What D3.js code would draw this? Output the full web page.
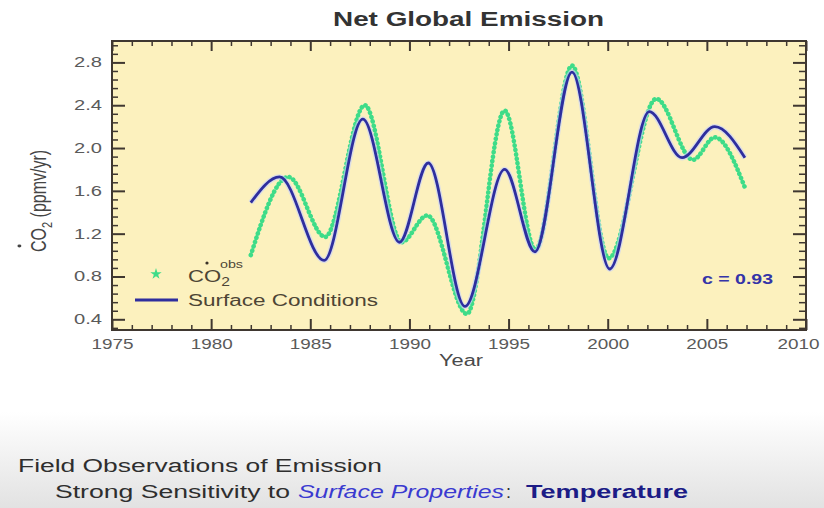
<!DOCTYPE html>
<html lang="en">
<head>
<meta charset="UTF-8">
<title>Net Global Emission</title>
<script src="https://d3js.org/d3.v7.min.js"></script>
<style>
    body { margin: 0; background: #fff; }
    svg text { font-family: "Liberation Sans", Arial, sans-serif; }
</style>
</head>
<body>
<svg id="main" width="824" height="508" viewBox="0 0 824 508"></svg>
<script>
    // observed CO2 growth rate (green dots), read at turning points
    const obsYears  = [1982.0, 1983.9, 1985.75, 1987.75, 1989.6, 1990.9, 1992.9, 1994.8, 1996.35, 1998.2, 2000.05, 2002.45, 2004.3, 2005.4, 2006.92];
    const obsValues = [1.00, 1.73, 1.17, 2.40, 1.12, 1.37, 0.45, 2.35, 1.05, 2.77, 0.97, 2.46, 1.89, 2.10, 1.63];

    // surface conditions model (blue line)
    const surfYears  = [1982.0, 1983.45, 1985.7, 1987.65, 1989.5, 1990.95, 1992.8, 1994.8, 1996.33, 1998.2, 2000.1, 2002.1, 2003.75, 2005.4, 2006.92];
    const surfValues = [1.49, 1.73, 0.95, 2.27, 1.12, 1.86, 0.52, 1.80, 1.03, 2.71, 0.87, 2.34, 1.91, 2.20, 1.91];

    const xTicks = [1975, 1980, 1985, 1990, 1995, 2000, 2005, 2010];
    const yTicks = [0.4, 0.8, 1.2, 1.6, 2.0, 2.4, 2.8];

    let svg = d3.select('svg#main');
    let plot = {left: 112, right: 806, top: 41, bottom: 330};
    const frameColor = '#3f3730';
    const blue = '#2e2e9e';
    const green = '#3edc88';

    // grey band at the bottom of the slide
    let grad = svg.append('defs').append('linearGradient')
        .attr('id', 'band').attr('x1', 0).attr('y1', 0).attr('x2', 0).attr('y2', 1);
    grad.append('stop').attr('offset', '0%').attr('stop-color', '#ffffff');
    grad.append('stop').attr('offset', '100%').attr('stop-color', '#e2e2e2');
    svg.append('rect').attr('x', 0).attr('y', 412).attr('width', 824).attr('height', 96)
        .attr('fill', 'url(#band)');

    let xScale = d3.scaleLinear().domain([1975, 2010]).range([plot.left, plot.right]);
    let yScale = d3.scaleLinear().domain([0.3, 3.0]).range([plot.bottom, plot.top]);

    svg.append('rect')
        .attr('x', plot.left).attr('y', plot.top)
        .attr('width', plot.right - plot.left).attr('height', plot.bottom - plot.top)
        .attr('fill', '#fcf1be');

    // minor tick values
    let xMinor = d3.range(1975, 2011).filter(d => d % 5 !== 0);
    let yMinor = d3.range(4, 38).filter(k => k % 5 !== 0).map(k => k * 0.08);

    function styleAxis(g, width) {
        g.attr('font-size', null).attr('font-family', null);
        g.select('.domain').remove();
        g.selectAll('line').attr('stroke', frameColor).attr('stroke-width', width);
    }

    // bottom axis
    svg.append('g').attr('transform', 'translate(0,' + plot.bottom + ')')
        .call(d3.axisBottom(xScale).tickValues(xMinor).tickSize(-5).tickFormat(''))
        .call(g => styleAxis(g, 1.5));
    let xAxis = svg.append('g').attr('transform', 'translate(0,' + plot.bottom + ')')
        .call(d3.axisBottom(xScale).tickValues(xTicks).tickSize(-11).tickPadding(8).tickFormat(d3.format('d')))
        .call(g => styleAxis(g, 2));
    xAxis.selectAll('text').attr('font-size', 15).attr('fill', '#5a5a5a')
        .attr('textLength', 42).attr('lengthAdjust', 'spacingAndGlyphs');
    // the last label sits a little inside the slide edge
    xAxis.selectAll('text').filter(d => d === 2010).attr('dx', -8);

    // top axis (ticks only)
    svg.append('g').attr('transform', 'translate(0,' + plot.top + ')')
        .call(d3.axisTop(xScale).tickValues(xMinor).tickSize(-5).tickFormat(''))
        .call(g => styleAxis(g, 1.5));
    svg.append('g').attr('transform', 'translate(0,' + plot.top + ')')
        .call(d3.axisTop(xScale).tickValues(xTicks).tickSize(-10).tickFormat(''))
        .call(g => styleAxis(g, 2));

    // left axis
    svg.append('g').attr('transform', 'translate(' + plot.left + ',0)')
        .call(d3.axisLeft(yScale).tickValues(yMinor).tickSize(-6).tickFormat(''))
        .call(g => styleAxis(g, 1.5));
    let yAxis = svg.append('g').attr('transform', 'translate(' + plot.left + ',0)')
        .call(d3.axisLeft(yScale).tickValues(yTicks).tickSize(-13).tickPadding(10).tickFormat(d3.format('.1f')))
        .call(g => styleAxis(g, 2));
    yAxis.selectAll('text').attr('font-size', 14).attr('fill', '#5a5a5a')
        .attr('textLength', 28).attr('lengthAdjust', 'spacingAndGlyphs');

    // right axis (ticks only)
    svg.append('g').attr('transform', 'translate(' + plot.right + ',0)')
        .call(d3.axisRight(yScale).tickValues(yMinor).tickSize(-7).tickFormat(''))
        .call(g => styleAxis(g, 1.5));
    svg.append('g').attr('transform', 'translate(' + plot.right + ',0)')
        .call(d3.axisRight(yScale).tickValues(yTicks).tickSize(-13).tickFormat(''))
        .call(g => styleAxis(g, 2));

    // curves
    let line = d3.line()
        .x(d => xScale(d[0]))
        .y(d => yScale(d[1]))
        .curve(d3.curveMonotoneX);
    let obs = d3.zip(obsYears, obsValues);
    let surf = d3.zip(surfYears, surfValues);

    // observed series: a faint band plus dense dots
    svg.append('path').datum(obs).attr('d', line)
        .attr('fill', 'none').attr('stroke', '#8aeab8').attr('stroke-width', 3).attr('opacity', 0.35);
    svg.append('path').datum(obs).attr('d', line)
        .attr('fill', 'none').attr('stroke', green).attr('stroke-width', 4.6)
        .attr('stroke-linecap', 'round').attr('stroke-dasharray', '0.1 4.4');

    svg.append('path').datum(surf).attr('d', line)
        .attr('fill', 'none').attr('stroke', '#c4d0ff').attr('stroke-width', 5.5).attr('opacity', 0.6);
    svg.append('path').datum(surf).attr('d', line)
        .attr('fill', 'none').attr('stroke', blue).attr('stroke-width', 2.8);

    // frame
    svg.append('rect')
        .attr('x', plot.left).attr('y', plot.top)
        .attr('width', plot.right - plot.left).attr('height', plot.bottom - plot.top)
        .attr('fill', 'none').attr('stroke', frameColor).attr('stroke-width', 2);

    // title
    svg.append('text').attr('x', 333).attr('y', 26)
        .attr('font-size', 20).attr('font-weight', 'bold').attr('fill', '#333')
        .attr('textLength', 271).attr('lengthAdjust', 'spacingAndGlyphs')
        .text('Net Global Emission');

    // y label, rotated and widened like the slide
    let yl = svg.append('g').attr('transform', 'translate(46,252) scale(1.4,1) rotate(-90)');
    let ylt = yl.append('text').attr('font-size', 16).attr('fill', '#444');
    ylt.append('tspan').text('CO');
    ylt.append('tspan').attr('font-size', 11).attr('dy', 4).text('2');
    ylt.append('tspan').attr('dy', -4).text(' (ppmv/yr)');
    yl.append('circle').attr('cx', 6).attr('cy', -19).attr('r', 1.4).attr('fill', '#444');

    // x label
    svg.append('text').attr('x', 439).attr('y', 366)
        .attr('font-size', 16).attr('fill', '#4a4a4a')
        .attr('textLength', 44).attr('lengthAdjust', 'spacingAndGlyphs')
        .text('Year');

    // legend
    svg.append('path')
        .attr('transform', 'translate(156,274)')
        .attr('d', d3.symbol().type(d3.symbolStar).size(40))
        .attr('fill', green);
    let lg = svg.append('g').attr('transform', 'translate(188,282) scale(1.3,1)');
    let lgt = lg.append('text').attr('font-size', 17).attr('fill', '#4d4535');
    lgt.append('tspan').text('CO');
    lgt.append('tspan').attr('font-size', 12).attr('dy', 4).text('2');
    lg.append('text').attr('x', 24.6).attr('y', -14).attr('font-size', 11).attr('fill', '#4d4535').text('obs');
    svg.append('circle').attr('cx', 207).attr('cy', 263).attr('r', 1.6).attr('fill', '#3a3228');

    svg.append('line')
        .attr('x1', 135).attr('x2', 178).attr('y1', 300).attr('y2', 300)
        .attr('stroke', blue).attr('stroke-width', 3);
    svg.append('text').attr('x', 188).attr('y', 306)
        .attr('font-size', 16).attr('fill', '#4d4535')
        .attr('textLength', 190).attr('lengthAdjust', 'spacingAndGlyphs')
        .text('Surface Conditions');

    // correlation
    svg.append('text').attr('x', 702).attr('y', 284)
        .attr('font-size', 15).attr('font-weight', 'bold').attr('fill', '#3434a8')
        .attr('textLength', 71).attr('lengthAdjust', 'spacingAndGlyphs')
        .text('c = 0.93');

    // slide text under the chart
    svg.append('text').attr('x', 18).attr('y', 472)
        .attr('font-size', 18).attr('fill', '#2e2e2e')
        .attr('textLength', 364).attr('lengthAdjust', 'spacingAndGlyphs')
        .text('Field Observations of Emission');
    svg.append('text').attr('x', 55).attr('y', 498)
        .attr('font-size', 18).attr('fill', '#2e2e2e')
        .attr('textLength', 235).attr('lengthAdjust', 'spacingAndGlyphs')
        .text('Strong Sensitivity to');
    svg.append('text').attr('x', 298).attr('y', 498)
        .attr('font-size', 18).attr('font-style', 'italic').attr('fill', '#3a3ad0')
        .attr('textLength', 206).attr('lengthAdjust', 'spacingAndGlyphs')
        .text('Surface Properties');
    svg.append('text').attr('x', 506).attr('y', 498)
        .attr('font-size', 18).attr('fill', '#2e2e2e')
        .text(':');
    svg.append('text').attr('x', 526).attr('y', 498)
        .attr('font-size', 18).attr('font-weight', 'bold').attr('fill', '#1c1c86')
        .attr('textLength', 162).attr('lengthAdjust', 'spacingAndGlyphs')
        .text('Temperature');
</script>
</body>
</html>
